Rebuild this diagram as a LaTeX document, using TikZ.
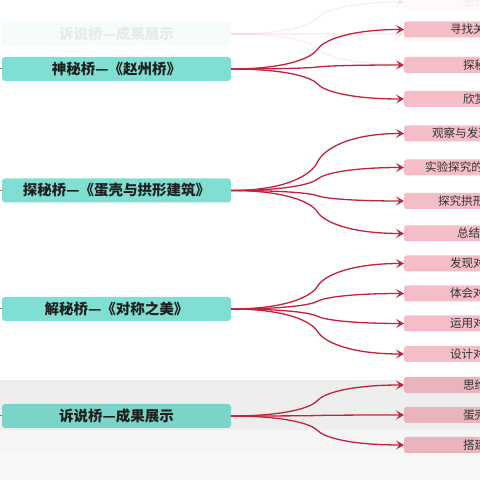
\documentclass[tikz,border=0pt]{standalone}
\usepackage{fontspec}
\newfontfamily\cjk{Noto Sans CJK SC}
\usetikzlibrary{arrows.meta,calc}
\definecolor{bridgeteal}{RGB}{128,223,211}
\definecolor{taskpink}{RGB}{245,189,199}
\definecolor{linkred}{RGB}{194,34,62}
\definecolor{stubbrown}{RGB}{170,120,60}
\begin{document}
\begin{tikzpicture}[x=1pt,y=1pt,
    bridge/.style={fill=bridgeteal, rounded corners=3pt, minimum width=229pt, minimum height=24pt, inner sep=0pt, outer sep=0pt, text=black!88, font=\cjk\bfseries\fontsize{14.5}{15}\selectfont},
    task/.style={fill=taskpink, rounded corners=2.5pt, anchor=west, minimum height=16pt, inner ysep=0pt, outer sep=0pt, text width=80pt, align=left, text=black!80, font=\cjk\fontsize{11.6}{12}\selectfont},
    arrowline/.style={draw=linkred, line width=1.3pt, -{Stealth[length=8pt,width=9pt,inset=3.5pt]}},
    link/.style={to path={let \p1=(\tikztostart), \p2=(\tikztotarget), \n1={(\y2-\y1)/2}, \n2={(\x1+\x2)/2} in
        .. controls +(55pt,0pt) and +(-6pt,-0.45*\n1) .. (\n2,\y1+\n1)
        .. controls +(6pt,0.45*\n1) and +(-55pt,0pt) .. (\p2)}},
    stub/.style={draw=stubbrown, line width=1pt}]
    \useasboundingbox (0,0) rectangle (480,480);
    \clip (0,0) rectangle (480,480);

    % Background bands
    \fill[white] (0,0) rectangle (480,480);
    \fill[gray!13] (0,50) rectangle (480,100);
    \fill[gray!8] (0,27) rectangle (480,50);
    \fill[gray!6] (0,0) rectangle (480,27);

    % Faded copy at the top
    \begin{scope}[opacity=0.07]
        \node[bridge] (ghost) at (116.5,446) {诉说桥—成果展示};
        \node[task, inner xsep=59pt] (gh1) at (404,478) {思维};
        \node[task, inner xsep=59pt] (gh2) at (404,446) {};
        \node[task, inner xsep=59pt] (gh3) at (404,416) {};
        \draw[arrowline] (ghost.east) to[link] (gh1.west);
        \draw[arrowline] (ghost.east) to[link] (gh2.west);
        \draw[arrowline] (ghost.east) to[link] (gh3.west);
    \end{scope}

    % Bridge 1
    \coordinate (in1) at (-4,411);
    \node[bridge] (zhaozhou) at (116.5,411) {神秘桥—《赵州桥》};
    \node[task, inner xsep=46pt] (zz1) at (404,450.5) {寻找关};
    \node[task, inner xsep=59pt] (zz2) at (404,415) {探秘};
    \node[task, inner xsep=59pt] (zz3) at (404,381) {欣赏};
    \draw[stub] (in1) -- (zhaozhou.west);
    \draw[arrowline] (zhaozhou.east) to[link] (zz1.west);
    \draw[arrowline] (zhaozhou.east) to[link] (zz2.west);
    \draw[arrowline] (zhaozhou.east) to[link] (zz3.west);

    % Bridge 2
    \coordinate (in2) at (-4,289.5);
    \node[bridge] (danke) at (116.5,289.5) {探秘桥—《蛋壳与拱形建筑》};
    \node[task, inner xsep=28pt] (dk1) at (404,346.5) {观察与发现};
    \node[task, inner xsep=21pt] (dk2) at (404,312.5) {实验探究的};
    \node[task, inner xsep=34pt] (dk3) at (404,279) {探究拱形};
    \node[task, inner xsep=53pt] (dk4) at (404,246.5) {总结};
    \draw[stub] (in2) -- (danke.west);
    \draw[arrowline] (danke.east) to[link] (dk1.west);
    \draw[arrowline] (danke.east) to[link] (dk2.west);
    \draw[arrowline] (danke.east) to[link] (dk3.west);
    \draw[arrowline] (danke.east) to[link] (dk4.west);

    % Bridge 3
    \coordinate (in3) at (-4,171);
    \node[bridge] (duichen) at (116.5,171) {解秘桥—《对称之美》};
    \node[task, inner xsep=46pt] (dc1) at (404,216.5) {发现对};
    \node[task, inner xsep=46pt] (dc2) at (404,186.5) {体会对};
    \node[task, inner xsep=46pt] (dc3) at (404,156.5) {运用对};
    \node[task, inner xsep=46pt] (dc4) at (404,126) {设计对};
    \draw[stub] (in3) -- (duichen.west);
    \draw[arrowline] (duichen.east) to[link] (dc1.west);
    \draw[arrowline] (duichen.east) to[link] (dc2.west);
    \draw[arrowline] (duichen.east) to[link] (dc3.west);
    \draw[arrowline] (duichen.east) to[link] (dc4.west);

    % Bridge 4
    \coordinate (in4) at (-4,64);
    \node[bridge, fill=bridgeteal!95!black] (chengguo) at (116.5,64) {诉说桥—成果展示};
    \node[task, inner xsep=59pt, fill=taskpink!95!black] (cg1) at (404,95) {思维};
    \node[task, inner xsep=59pt, fill=taskpink!95!black] (cg2) at (404,65) {蛋壳};
    \node[task, inner xsep=59pt, fill=taskpink!95!black] (cg3) at (404,35) {搭建};
    \draw[stub] (in4) -- (chengguo.west);
    \draw[arrowline] (chengguo.east) to[link] (cg1.west);
    \draw[arrowline] (chengguo.east) to[link] (cg2.west);
    \draw[arrowline] (chengguo.east) to[link] (cg3.west);
\end{tikzpicture}
\end{document}
